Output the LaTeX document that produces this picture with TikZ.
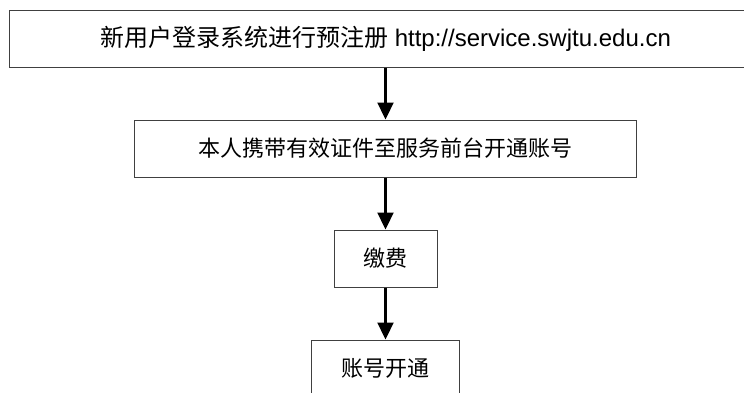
\documentclass[tikz,border=0pt]{standalone}
\usepackage{fontspec}
\setmainfont{Liberation Sans}
\newfontfamily\cjk{Noto Sans CJK SC}
\usetikzlibrary{arrows.meta}
\begin{document}
\begin{tikzpicture}[x=1pt,y=-1pt,
    stepbox/.style={draw=black!75,line width=1pt,minimum height=57pt,inner sep=0pt,font=\fontsize{22}{26}\selectfont},
    flow/.style={line width=2.2pt,-{Triangle[length=17pt,width=16pt]}}]
    \clip (0,0) rectangle (744,392);
    \node[stepbox,minimum width=752pt,font=\fontsize{24}{28}\selectfont] (reg) at (385.5,38.5)
        {{\cjk 新用户登录系统进行预注册} http://service.swjtu.edu.cn};
    \node[stepbox,minimum width=502pt] (card) at (385.5,148.5) {\cjk 本人携带有效证件至服务前台开通账号};
    \node[stepbox,minimum width=103pt] (pay) at (385.5,258.5) {\cjk 缴费};
    \node[stepbox,minimum width=148pt] (open) at (385.5,368.5) {\cjk 账号开通};
    \draw[flow] (reg) -- (card);
    \draw[flow] (card) -- (pay);
    \draw[flow] (pay) -- (open);
\end{tikzpicture}
\end{document}
